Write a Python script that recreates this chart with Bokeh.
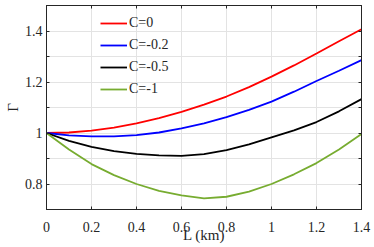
from bokeh.plotting import figure
from bokeh.models import (LinearAxis, FixedTicker, Range1d, Legend, LegendItem,
                          CustomJSTickFormatter)
from bokeh.embed import file_html
from bokeh.resources import INLINE

# ---- data ----
L_km = [0.0, 0.1, 0.2, 0.3, 0.4, 0.5, 0.6, 0.7, 0.8, 0.9, 1.0, 1.1, 1.2, 1.3, 1.4]
gamma_c0 = [1.000, 1.002, 1.009, 1.021, 1.038, 1.058, 1.083, 1.111, 1.143, 1.180,
            1.221, 1.265, 1.312, 1.360, 1.407]
gamma_c02 = [1.000, 0.991, 0.987, 0.987, 0.992, 1.002, 1.018, 1.038, 1.062, 1.091,
             1.123, 1.162, 1.204, 1.244, 1.286]
gamma_c05 = [1.000, 0.969, 0.946, 0.929, 0.918, 0.912, 0.910, 0.917, 0.933, 0.955,
             0.983, 1.010, 1.043, 1.085, 1.133]
gamma_c1 = [1.000, 0.935, 0.878, 0.835, 0.800, 0.773, 0.755, 0.744, 0.750, 0.770,
            0.800, 0.838, 0.882, 0.935, 0.996]
series_labels = ["C=0", "C=-0.2", "C=-0.5", "C=-1"]
series_colors = ["#FF0000", "#0000FF", "#000000", "#77AC30"]

x_ticks = [0.0, 0.2, 0.4, 0.6, 0.8, 1.0, 1.2, 1.4]
y_ticks = [0.8, 1.0, 1.2, 1.4]
y_minor = [0.7, 0.9, 1.1, 1.3, 1.5]

FONT = "Times New Roman"
AX = "#262626"
GRID = "#e3e3e3"

p = figure(width=374, height=247, output_backend="svg", toolbar_location=None,
           x_range=Range1d(0, 1.4), y_range=Range1d(0.7, 1.5),
           min_border_left=46, min_border_right=13, min_border_top=5,
           min_border_bottom=38)
p.background_fill_color = "white"
p.border_fill_color = "white"
p.outline_line_color = AX
p.outline_line_width = 1

fmt = CustomJSTickFormatter(code="return Number(tick.toFixed(2)).toString();")
blank = CustomJSTickFormatter(code="return '';")

xt = FixedTicker(ticks=x_ticks)
yt = FixedTicker(ticks=y_ticks, minor_ticks=y_minor)

p.xaxis.ticker = xt
p.yaxis.ticker = yt
p.xaxis.formatter = fmt
p.yaxis.formatter = fmt
p.xgrid.ticker = xt
p.ygrid.ticker = yt
for g in (p.xgrid, p.ygrid):
    g.grid_line_color = GRID
    g.grid_line_width = 1
p.ygrid.minor_grid_line_color = GRID
p.ygrid.minor_grid_line_width = 1

for ax in (p.xaxis[0], p.yaxis[0]):
    ax.axis_line_color = AX
    ax.major_tick_line_color = AX
    ax.minor_tick_line_color = AX
    ax.major_tick_in = 3
    ax.major_tick_out = 0
    ax.minor_tick_in = 3
    ax.minor_tick_out = 0
    ax.major_label_text_font = FONT
    ax.major_label_text_font_size = "14px"
    ax.major_label_text_color = AX
    ax.axis_label_text_font = FONT
    ax.axis_label_text_font_style = "normal"
    ax.axis_label_text_color = AX
    ax.axis_label_text_font_size = "15px"

p.xaxis.axis_label = "L (km)"
p.xaxis.major_label_standoff = 12
p.xaxis.axis_label_standoff = -8
p.yaxis.axis_label = "Γ"
p.yaxis.major_label_standoff = 4
p.yaxis.axis_label_standoff = 1

# mirrored ticks on top and right
top = LinearAxis(ticker=xt, formatter=blank)
right = LinearAxis(ticker=yt, formatter=blank)
for ax in (top, right):
    ax.axis_line_color = AX
    ax.major_tick_line_color = AX
    ax.minor_tick_line_color = AX
    ax.major_tick_in = 3
    ax.major_tick_out = 0
    ax.minor_tick_in = 3
    ax.minor_tick_out = 0
    ax.major_label_standoff = 0
p.add_layout(top, "above")
p.add_layout(right, "right")

items = []
for ys, lab, col in zip([gamma_c0, gamma_c02, gamma_c05, gamma_c1], series_labels, series_colors):
    r = p.line(L_km, ys, line_color=col, line_width=1.8)
    items.append(LegendItem(label=lab, renderers=[r]))

leg = Legend(items=items, location=(54, 110))
leg.background_fill_alpha = 0
leg.border_line_color = None
leg.padding = 0
leg.margin = 0
leg.spacing = 2
leg.glyph_width = 27
leg.glyph_height = 20
leg.label_height = 20
leg.label_standoff = 2
leg.label_text_font = FONT
leg.label_text_font_size = "14px"
leg.label_text_color = AX
p.add_layout(leg, "center")

open("out.html", "w").write(file_html(p, INLINE))
